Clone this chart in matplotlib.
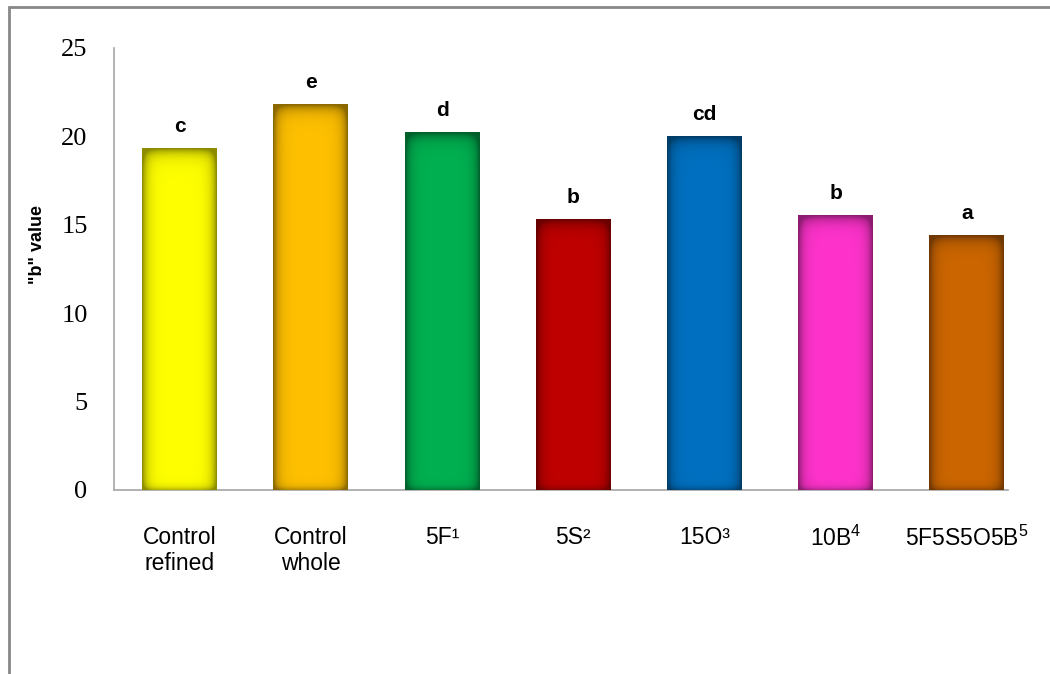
import numpy as np
import matplotlib.pyplot as plt
from matplotlib.colors import to_rgb
from matplotlib.patches import Rectangle

# data
categories = ['Control\nrefined', 'Control\nwhole', '5F\u00b9', '5S\u00b2', '15O\u00b3',
              r'10B$\mathregular{^4}$', r'5F5S5O5B$\mathregular{^5}$']
b_values = [19.3, 21.8, 20.2, 15.3, 20.0, 15.5, 14.4]
groups = ['c', 'e', 'd', 'b', 'cd', 'b', 'a']
colors = ['#FFFF00', '#FFC000', '#00B050', '#C00000', '#0070C0', '#FF33CC', '#CC6600']

plt.rcParams['font.family'] = ['Liberation Sans', 'DejaVu Sans']
plt.rcParams['mathtext.fontset'] = 'custom'
plt.rcParams['mathtext.rm'] = 'Liberation Sans'

fig = plt.figure(figsize=(10.5, 6.74), dpi=100)
ax = fig.add_axes([114 / 1050, 184 / 674, 894 / 1050, 442 / 674])

x = np.arange(len(categories))
width = 0.57
bars = ax.bar(x, b_values, width=width, color=colors, edgecolor='none', zorder=2)

# soft darker rim on every bar
for rect, c, g in zip(bars, colors, groups):
    x0, w, h = rect.get_x(), rect.get_width(), rect.get_height()
    nx, ny = 80, 300
    u = np.linspace(0, 1, nx)
    dx = np.minimum(u, 1 - u) * 75  # px from side
    yy = np.linspace(h, 0, ny)
    dt = (h - yy) * 17.7            # px from top
    db = yy * 17.7                  # px from bottom
    side = np.exp(-dx / 5.0)[None, :]
    top = np.exp(-dt / 6.0)[:, None]
    bot = np.exp(-db / 3.0)[:, None]
    shade = 1 - 0.45 * np.clip(side + top + 0.6 * bot, 0, 1)
    img = np.ones((ny, nx, 3)) * np.array(to_rgb(c))[None, None, :] * shade[..., None]
    ax.imshow(img, extent=(x0, x0 + w, 0, h), aspect='auto',
              interpolation='bilinear', zorder=3)
    ax.annotate(g, (x0 + w / 2, h), xytext=(0, 9), textcoords='offset points',
                ha='center', va='bottom', fontsize=15, fontweight='bold', zorder=4)

ax.set_xlim(-0.5, 6.314)
ax.set_ylim(0, 25)
ax.set_yticks([0, 5, 10, 15, 20, 25])
ax.set_xticks(x)
ax.set_xticklabels(categories, fontsize=16.5, linespacing=1.15)
ax.tick_params(axis='x', length=0, pad=26)
ax.tick_params(axis='y', length=0, pad=19)
for lab in ax.get_yticklabels():
    lab.set_fontfamily('Liberation Serif')
    lab.set_fontsize(19)

for side in ['top', 'right']:
    ax.spines[side].set_visible(False)
for side in ['left', 'bottom']:
    ax.spines[side].set_color('#a6a6a6')
    ax.spines[side].set_linewidth(1.2)

fig.text(38 / 1050, 1 - 245 / 674, '"b" value', rotation=90, ha='center', va='center',
         fontsize=13, fontweight='bold')

# outer frame
fig.patches.append(Rectangle((8.5 / 1050, -0.1), 1.2, 1.1 - 7.5 / 674,
                             transform=fig.transFigure, fill=False,
                             edgecolor='#888888', linewidth=2))

plt.savefig('out.png', dpi=100)
